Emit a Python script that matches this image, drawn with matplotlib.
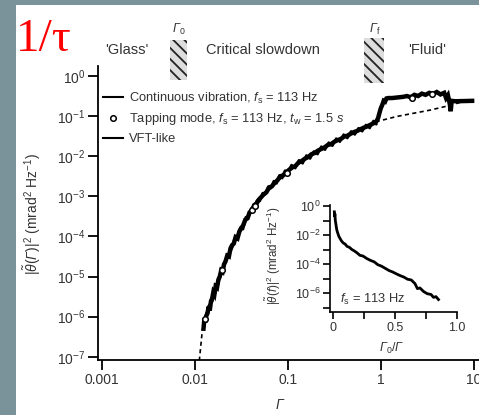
import matplotlib
matplotlib.use("Agg")
import matplotlib.pyplot as plt
import numpy as np
from matplotlib.lines import Line2D
from matplotlib.patches import Rectangle

# continuous vibration trace (log10 Gamma, log10 amplitude)
cont_log_gamma = [
    -1.905, -1.895, -1.888, -1.875, -1.862, -1.850, -1.838, -1.825, -1.812, -1.800,
    -1.788, -1.775, -1.760, -1.745, -1.730, -1.715, -1.700, -1.685, -1.668, -1.650,
    -1.632, -1.615, -1.598, -1.580, -1.560, -1.540, -1.520, -1.500, -1.478, -1.455,
    -1.432, -1.410, -1.385, -1.360, -1.335, -1.310, -1.285, -1.258, -1.230, -1.200,
    -1.170, -1.140, -1.110, -1.080, -1.050, -1.020, -0.990, -0.955, -0.920, -0.885,
    -0.850, -0.815, -0.780, -0.745, -0.710, -0.675, -0.640, -0.605, -0.570, -0.535,
    -0.500, -0.465, -0.430, -0.395, -0.360, -0.325, -0.290, -0.255, -0.220, -0.185,
    -0.150, -0.115, -0.080, -0.050, -0.030, -0.015, 0.000, 0.015, 0.030, 0.045,
    0.060, 0.080, 0.120, 0.160, 0.200, 0.240, 0.280, 0.320, 0.360, 0.400,
    0.440, 0.480, 0.520, 0.560, 0.600, 0.640, 0.680, 0.700, 0.720, 0.740,
    0.750, 0.760, 0.800, 0.980,
]
cont_log_amp = [
    -6.30, -6.05, -6.15, -5.98, -5.92, -5.75, -5.85, -5.62, -5.55, -5.40,
    -5.45, -5.25, -5.28, -5.08, -5.00, -4.85, -4.88, -4.70, -4.62, -4.48,
    -4.50, -4.30, -4.22, -4.18, -4.02, -4.05, -3.88, -3.80, -3.72, -3.58,
    -3.55, -3.40, -3.35, -3.22, -3.18, -3.08, -3.02, -2.95, -2.90, -2.78,
    -2.75, -2.66, -2.60, -2.50, -2.48, -2.40, -2.35, -2.28, -2.25, -2.16,
    -2.12, -2.06, -2.02, -1.95, -1.92, -1.86, -1.82, -1.78, -1.72, -1.70,
    -1.64, -1.60, -1.57, -1.51, -1.49, -1.44, -1.40, -1.37, -1.33, -1.29,
    -1.26, -1.22, -1.18, -1.14, -1.05, -0.92, -0.80, -0.72, -0.62, -0.64,
    -0.56, -0.55, -0.55, -0.54, -0.53, -0.52, -0.50, -0.53, -0.47, -0.50,
    -0.44, -0.47, -0.42, -0.45, -0.40, -0.46, -0.42, -0.55, -0.48, -0.70,
    -0.88, -0.62, -0.63, -0.62,
]

# tapping mode trace: the scatter that roughens the band around the backbone
tap_trace_log_gamma = [
    -1.90, -1.87, -1.84, -1.81, -1.78, -1.75, -1.72, -1.69, -1.66, -1.63,
    -1.60, -1.57, -1.54, -1.51, -1.48, -1.45, -1.42, -1.39, -1.36, -1.33,
    -1.30, -1.27, -1.24, -1.21, -1.18, -1.15, -1.12, -1.09, -1.06, -1.03,
    -1.00, -0.96, -0.92, -0.88, -0.84, -0.80, -0.76, -0.72, -0.68, -0.64,
    -0.60, -0.56, -0.52, -0.48, -0.44, -0.40, -0.36, -0.32, -0.28, -0.24,
    -0.20, -0.16, -0.12, -0.08, -0.05,
]
tap_trace_log_amp = [
    -6.20, -5.90, -5.70, -5.62, -5.30, -5.20, -4.92, -4.80, -4.52, -4.42,
    -4.30, -4.05, -3.98, -3.78, -3.82, -3.52, -3.50, -3.30, -3.28, -3.10,
    -3.12, -2.92, -2.95, -2.76, -2.80, -2.62, -2.68, -2.48, -2.55, -2.36,
    -2.42, -2.22, -2.30, -2.10, -2.18, -1.98, -2.06, -1.88, -1.95, -1.76,
    -1.84, -1.66, -1.74, -1.56, -1.64, -1.46, -1.55, -1.38, -1.46, -1.30,
    -1.38, -1.22, -1.30, -1.12, -1.20,
]

# tapping mode open circles
tap_log_gamma = [-1.887, -1.708, -1.385, -1.351, -1.009, 0.330, 0.545]
tap_log_amp = [-6.05, -4.85, -3.33, -3.25, -2.42, -0.55, -0.46]

# VFT-like curve
vft_log_gamma = [-1.95, -1.92, -1.90, -1.85, -1.75, -1.60, -1.45, -1.30, -1.10, -0.90,
                 -0.70, -0.50, -0.30, -0.10, -0.05, 0.17, 0.35, 0.53, 0.73, 0.85, 1.00]
vft_log_amp = [-7.10, -6.40, -6.15, -5.70, -5.10, -4.25, -3.60, -3.08, -2.60, -2.22,
               -1.92, -1.65, -1.42, -1.20, -1.14, -1.01, -0.93, -0.85, -0.74, -0.66, -0.62]

# inset: spectrum vs Gamma0/Gamma
inset_x = [0.008, 0.010, 0.013, 0.016, 0.020, 0.024, 0.028, 0.035, 0.045, 0.055,
           0.065, 0.080, 0.095, 0.110, 0.130, 0.150, 0.170, 0.190, 0.215, 0.240,
           0.270, 0.300, 0.330, 0.360, 0.390, 0.420, 0.450, 0.480, 0.510, 0.540,
           0.570, 0.600, 0.630, 0.660, 0.680, 0.700, 0.730, 0.760, 0.790, 0.810,
           0.830, 0.850]
inset_log_amp = [-0.40, -0.70, -0.55, -1.00, -1.20, -1.45, -1.65, -1.85, -2.10, -2.25,
                 -2.40, -2.55, -2.62, -2.78, -2.85, -3.00, -3.10, -3.22, -3.40, -3.45,
                 -3.62, -3.75, -3.85, -4.05, -4.15, -4.30, -4.45, -4.55, -4.68, -4.80,
                 -4.90, -5.05, -5.10, -5.35, -5.70, -5.65, -5.90, -6.05, -6.10, -6.30,
                 -6.25, -6.45]

x_ticks = [0.001, 0.01, 0.1, 1, 10]
x_tick_labels = ["0.001", "0.01", "0.1", "1", "10"]
y_ticks = [1e-7, 1e-6, 1e-5, 1e-4, 1e-3, 1e-2, 1e-1, 1e0]

TXT = "#333333"
plt.rcParams["font.family"] = ["Liberation Sans", "DejaVu Sans"]
plt.rcParams["mathtext.fontset"] = "custom"
plt.rcParams["mathtext.rm"] = "Liberation Sans"
plt.rcParams["mathtext.it"] = "Liberation Sans:italic"
# \mathsf is used for italic capital Gamma (mathtext keeps Greek capitals upright in \mathit)
plt.rcParams["mathtext.sf"] = "Liberation Sans:italic"
plt.rcParams["hatch.linewidth"] = 1.3

G = r"\mathsf{\Gamma}"

W, H = 479, 415
fig = plt.figure(figsize=(W / 100, H / 100), dpi=100, facecolor="#7a939a")
fig.add_artist(Rectangle((16 / W, 0), 1, (H - 5) / H, transform=fig.transFigure,
                         facecolor="white", edgecolor="none", zorder=0))


def px(x0, y0, x1, y1):
    """Pixel box -> figure fraction rect."""
    return [x0 / W, 1 - y1 / H, (x1 - x0) / W, (y1 - y0) / H]


ax = fig.add_axes(px(98, 66, 484, 360))
ax.set_facecolor("none")
ax.set_xscale("log")
ax.set_yscale("log")
ax.set_xlim(10 ** -3.038, 10 ** 1.1075)
ax.set_ylim(10 ** -7.082, 10 ** 0.249)

ax.plot(10 ** np.array(vft_log_gamma), 10 ** np.array(vft_log_amp), color="k",
        lw=1.2, ls=(0, (2.5, 2)), zorder=2)
ax.plot(10 ** np.array(cont_log_gamma), 10 ** np.array(cont_log_amp), color="k",
        lw=3.2, solid_joinstyle="miter", zorder=3)
ax.plot(10 ** np.array(tap_trace_log_gamma), 10 ** np.array(tap_trace_log_amp),
        color="k", lw=1.8, zorder=3)
ax.plot(10 ** np.array(tap_log_gamma), 10 ** np.array(tap_log_amp), ls="none",
        marker="o", ms=4, mfc="white", mec="k", mew=1.1, zorder=4)

for side in ("top", "right"):
    ax.spines[side].set_visible(False)
for side in ("left", "bottom"):
    ax.spines[side].set_linewidth(1.3)
ax.set_xticks(x_ticks)
ax.set_xticklabels(x_tick_labels)
ax.set_yticks(y_ticks)
ax.set_yticklabels([f"$10^{{{int(np.log10(v))}}}$" for v in y_ticks])
ax.minorticks_off()
ax.tick_params(direction="out", length=7, width=1.3, labelsize=10, colors="k",
               labelcolor=TXT, pad=2)
ax.set_xlabel(f"${G}$", fontsize=10, color=TXT)
ax.xaxis.set_label_coords((280 - 98) / (484 - 98), -(398 - 360) / (360 - 66))
ax.set_ylabel(rf"$|\tilde{{\theta}}({G})|^2$ (mrad$^2$ Hz$^{{-1}}$)",
              fontsize=10, color=TXT)
ax.yaxis.set_label_coords(-(98 - 43) / (484 - 98), (360 - 214) / (360 - 66))

handles = [
    Line2D([], [], color="k", lw=1.5),
    Line2D([], [], ls="none", marker="o", ms=4, mfc="white", mec="k", mew=1.1),
    Line2D([], [], color="k", lw=1.5),
]
labels = [
    r"Continuous vibration, $f_{\rm s}$ = 113 Hz",
    r"Tapping mode, $f_{\rm s}$ = 113 Hz, $t_{\rm w}$ = 1.5 $s$",
    "VFT-like",
]
leg = ax.legend(handles, labels, loc="upper left", frameon=False, fontsize=9.3,
                handlelength=1.55, handletextpad=0.45, labelspacing=0.45,
                bbox_to_anchor=(0.0, 0.934), borderaxespad=0.0)
for t in leg.get_texts():
    t.set_color(TXT)

# inset
ins = fig.add_axes(px(330, 205, 457, 312))
ins.set_facecolor("none")
ins.set_yscale("log")
ins.set_xlim(-0.027, 1.0)
ins.set_ylim(10 ** -7.31, 10 ** 0.07)
ins.plot(inset_x, 10 ** np.array(inset_log_amp), color="k", lw=2.0, zorder=3)
for side in ("top", "right"):
    ins.spines[side].set_visible(False)
for side in ("left", "bottom"):
    ins.spines[side].set_linewidth(1.2)
ins.set_xticks([0, 0.5, 1.0])
ins.set_xticklabels(["0", "0.5", "1.0"])
ins.set_xticks([0.25, 0.75], minor=True)
ins.set_yticks([1e0, 1e-2, 1e-4, 1e-6])
ins.set_yticklabels(["$10^{0}$", "$10^{-2}$", "$10^{-4}$", "$10^{-6}$"])
ins.set_yticks([1e-1, 1e-3, 1e-5, 1e-7], minor=True)
ins.yaxis.set_minor_formatter(plt.NullFormatter())
ins.tick_params(which="both", direction="out", length=5, width=1.2,
                labelsize=9, labelcolor=TXT, pad=2)
ins.set_xlabel(f"${G}_0/{G}$", fontsize=9, color=TXT)
ins.xaxis.set_label_coords((392 - 330) / 127, -(341 - 312) / 107)
ins.set_ylabel(r"$|\tilde{\theta}(f)|^2$ (mrad$^2$ Hz$^{-1}$)", fontsize=8.3, color=TXT)
ins.yaxis.set_label_coords(-(330 - 283) / 127, (312 - 256) / 107)
ins.text(340 / W, 1 - 299 / H, r"$f_{\rm s}$ = 113 Hz", transform=fig.transFigure,
         fontsize=9.3, color=TXT, va="center")

# regime annotations above the plot
fig.text(127 / W, 1 - 50 / H, "'Glass'", ha="center", va="center", fontsize=10.5, color=TXT)
fig.text(263 / W, 1 - 50 / H, "Critical slowdown", ha="center", va="center",
         fontsize=10.5, color=TXT)
fig.text(427 / W, 1 - 50 / H, "'Fluid'", ha="center", va="center", fontsize=10.5, color=TXT)
for (x0, y0, x1, y1), lab, lx in [((170, 40, 187, 80), f"${G}_0$", 179),
                                  ((364, 38, 384, 83), f"${G}_{{\\rm f}}$", 375)]:
    fig.add_artist(Rectangle((x0 / W, 1 - y1 / H), (x1 - x0) / W, (y1 - y0) / H,
                             transform=fig.transFigure, facecolor="#dddddd",
                             edgecolor="#222222", lw=0, hatch="\\\\\\"))
    fig.text(lx / W, 1 - 29 / H, lab, ha="center", va="center", fontsize=9, color=TXT)

fig.text(16 / W, 1 - 40 / H, "1/\u03c4", color="red", fontsize=34,
         family="Liberation Serif", ha="left", va="center")

fig.savefig("out.png", dpi=100, facecolor=fig.get_facecolor())
